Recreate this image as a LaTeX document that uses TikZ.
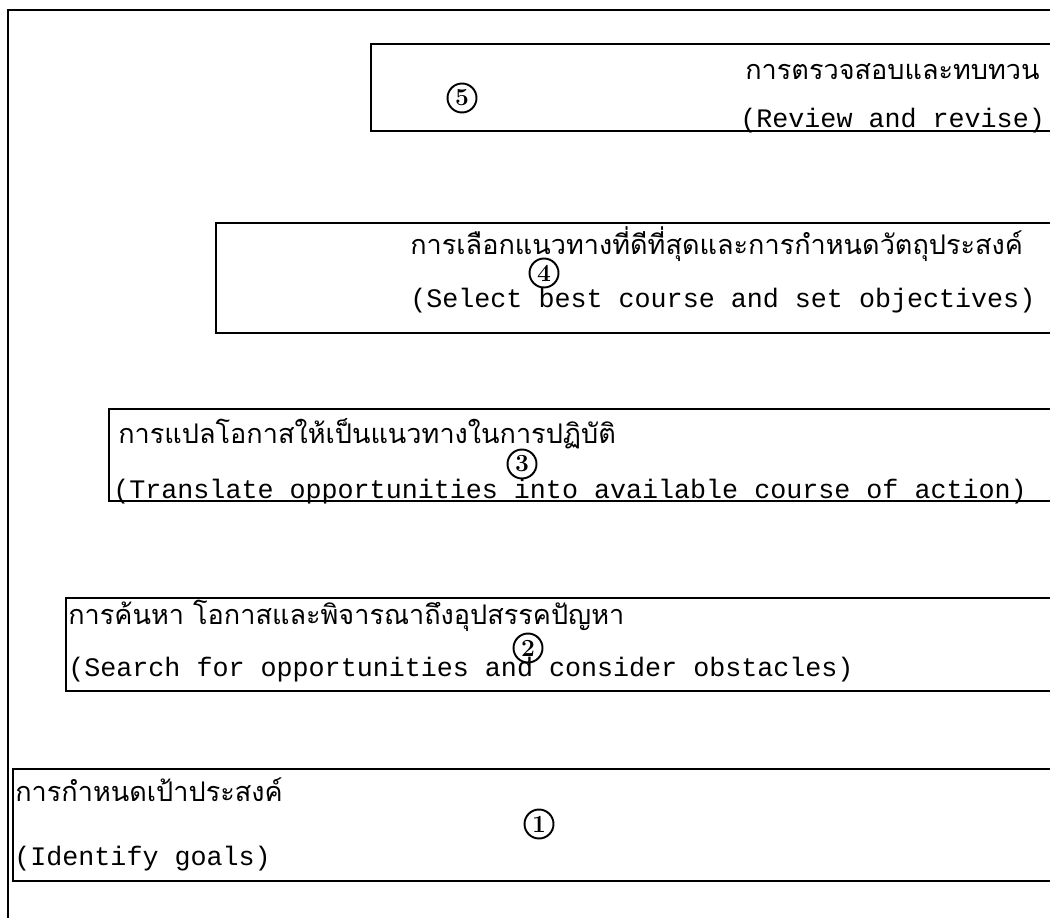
\documentclass[tikz,border=0pt]{standalone}
\usepackage{fontspec}
\newfontfamily\thaifont[Script=Thai]{Loma}
\newfontfamily\engfont{Liberation Mono}
\begin{document}
\begin{tikzpicture}[x=0.02cm,y=-0.02cm,
  box/.style={draw, line width=1.4pt, anchor=north west, inner sep=0pt},
  num/.style={circle, draw, line width=1.1pt, inner sep=0pt, minimum size=0.58cm, font=\bfseries\fontsize{14}{14}\selectfont},
  th/.style={anchor=base west, font=\thaifont\fontsize{15.4}{15.4}\selectfont, inner sep=0pt},
  en/.style={anchor=base west, font=\engfont\fontsize{15.2}{15.2}\selectfont, inner sep=0pt}]
\useasboundingbox (0,0) rectangle (1050,918);
\begin{scope}
\clip (0,0) rectangle (1050,918);
\coordinate (fa) at (8,930);
\coordinate (fb) at (8,10);
\coordinate (fc) at (1070,10);
\draw[line width=1.4pt] (fa) -- (fb) -- (fc);
% boxes
\node[box, minimum width=13.8cm, minimum height=1.74cm] (b5) at (370,43) {};
\node[box, minimum width=16.9cm, minimum height=2.2cm] (b4) at (215,222) {};
\node[box, minimum width=19.04cm, minimum height=1.84cm] (b3) at (108,408) {};
\node[box, minimum width=19.9cm, minimum height=1.86cm] (b2) at (65,597) {};
\node[box, minimum width=20.96cm, minimum height=2.24cm] (b1) at (12,768) {};
% texts
\node[th] (t5) at (745,80) {การตรวจสอบและทบทวน};
\node[en] (e5) at (740,128) {(Review and revise)};
\node[th] (t4) at (410,255) {การเลือกแนวทางที่ดีที่สุดและการกำหนดวัตถุประสงค์};
\node[en] (e4) at (410,308) {(Select best course and set objectives)};
\node[th] (t3) at (118,443) {การแปลโอกาสให้เป็นแนวทางในการปฏิบัติ};
\node[en] (e3) at (113,498) {(Translate opportunities into available course of action)};
\node[th] (t2) at (68,624) {การค้นหา โอกาสและพิจารณาถึงอุปสรรคปัญหา};
\node[en] (e2) at (68,676) {(Search for opportunities and consider obstacles)};
\node[th] (t1) at (15,801) {การกำหนดเป้าประสงค์};
\node[en] (e1) at (14,865) {(Identify goals)};
% numbers
\node[num] (n5) at (462,98) {5};
\node[num] (n4) at (544,273) {4};
\node[num] (n3) at (522,464) {3};
\node[num] (n2) at (528,648) {2};
\node[num] (n1) at (539,824) {1};
\end{scope}
\end{tikzpicture}
\end{document}
